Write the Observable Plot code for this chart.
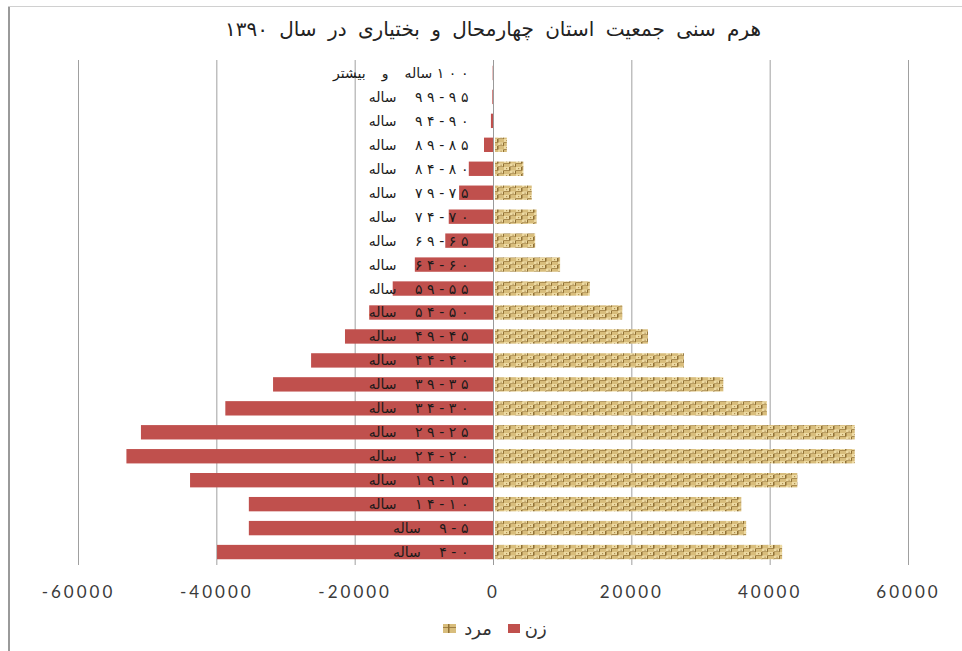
<!DOCTYPE html>
<html>
<head>
<meta charset="utf-8">
<script src="https://cdn.jsdelivr.net/npm/d3@7"></script>
<script src="https://cdn.jsdelivr.net/npm/@observablehq/plot@0.6"></script>
<style>
  html, body { margin: 0; padding: 0; background: #fff; }
  #wrap { position: relative; width: 962px; height: 651px; overflow: hidden; background: #fff; }
  #lborder { position: absolute; left: 8px; top: 6px; width: 2px; height: 645px; background: #9a9a9a; }
  #tborder { position: absolute; left: 8px; top: 6px; width: 954px; height: 1px; background: #d0d0d0; }
  #title { position: absolute; left: 0; width: 986px; top: 17px; text-align: center; direction: rtl;
           font-family: "DejaVu Sans", sans-serif; font-size: 20px; word-spacing: 5px; color: #222; }
  #chart { position: absolute; left: 0; top: 55px; }
  #legend { position: absolute; left: 0; width: 990px; top: 618px; display: flex; justify-content: center; align-items: center;
            font-family: "DejaVu Sans", sans-serif; font-size: 18px; color: #333; gap: 8px; }
  .sw { display: inline-block; width: 12px; height: 9px; }
</style>
</head>
<body>
<div id="wrap">
  <div id="lborder"></div>
  <div id="tborder"></div>
  <div id="title"></div>
  <div id="chart"></div>
  <div id="legend"></div>
</div>
<script>
// Age groups, youngest to oldest: [number part, word part]
const ageNums = [
  "۰‐۴", "۵‐۹", "۱۰‐۱۴", "۱۵‐۱۹", "۲۰‐۲۴", "۲۵‐۲۹", "۳۰‐۳۴", "۳۵‐۳۹", "۴۰‐۴۴", "۴۵‐۴۹",
  "۵۰‐۵۴", "۵۵‐۵۹", "۶۰‐۶۴", "۶۵‐۶۹", "۷۰‐۷۴", "۷۵‐۷۹", "۸۰‐۸۴", "۸۵‐۸۹", "۹۰‐۹۴", "۹۵‐۹۹",
  "۱۰۰"
];
const ageWords = [
  "ساله", "ساله", "ساله", "ساله", "ساله", "ساله", "ساله", "ساله", "ساله", "ساله",
  "ساله", "ساله", "ساله", "ساله", "ساله", "ساله", "ساله", "ساله", "ساله", "ساله",
  "ساله و بیشتر"
];
// Women (زن)
const women = [39900, 35300, 35300, 43800, 53000, 50900, 38700, 31800, 26300, 21400,
               17900, 14500, 11300, 6900, 6400, 4900, 3500, 1300, 300, 100, 50];
// Men (مرد)
const men = [41800, 36600, 35900, 44000, 52300, 52300, 39600, 33300, 27600, 22400,
             18700, 14000, 9700, 6100, 6300, 5600, 4400, 2000, 200, 50, 50];
const xTicks = [-60000, -40000, -20000, 0, 20000, 40000, 60000];
const titleText = "هرم سنی جمعیت استان چهارمحال و بختیاری در سال ۱۳۹۰";
const seriesNames = ["زن", "مرد"];
const colors = {women: "#c0504d"};

document.getElementById("title").textContent = titleText;

// display form: spaced digits, each number kept left-to-right, whole label right-to-left
const SP = "\u2004", EN = "\u2002", LRE = "\u202A", RLE = "\u202B", PDF = "\u202C", RLM = "\u200F";
function displayLabel(num, word, last) {
  const parts = num.split("‐").map(p => LRE + Array.from(p).join(SP) + PDF);
  const n = parts.join(RLM + SP + "‐" + SP + RLM);
  return RLE + n + RLM + (last ? "\u00A0" : "\u00A0" + EN + EN) + word.replace(/ /g, "\u00A0" + EN + SP) + PDF;
}

const rows = ageNums.map((n, i) => ({
  age: n + " " + ageWords[i],
  label: displayLabel(n, ageWords[i], i === 20),
  women: women[i], men: men[i]
}));
const yDomain = rows.map(d => d.age).reverse();

const chart = Plot.plot({
  width: 962,
  height: 555,
  marginLeft: 78,
  marginRight: 54,
  marginTop: 5,
  marginBottom: 45,
  style: {background: "transparent", overflow: "visible"},
  x: {domain: [-60000, 60000], axis: null},
  y: {domain: yDomain, paddingInner: 0.4, paddingOuter: 0.24, round: false, axis: null},
  marks: [
    Plot.ruleX(xTicks, {stroke: "#a0a0a0", strokeWidth: 1}),
    Plot.barX(rows, {x1: 0, x2: d => -d.women, y: "age", fill: colors.women}),
    Plot.barX(rows, {x1: 0, x2: d => d.men, y: "age", fill: "url(#woven)", insetLeft: 2}),
    Plot.ruleX([0], {stroke: "#9a9a9a", strokeWidth: 1}),
    Plot.text(rows, {x: 0, y: "age", text: "label", textAnchor: "end", dx: -25,
      fontFamily: "DejaVu Sans", fontSize: 14, fill: "#1a1a1a"}),
    Plot.axisX(xTicks, {tickSize: 0, tickPadding: 20, fontSize: 17, fontFamily: "Lato",
      tickFormat: d => String(d), fill: "#3a3a3a", label: null})
  ]
});

const svg = d3.select(chart);
svg.selectAll("g[aria-label='x-axis tick label'] text").style("letter-spacing", "3px");

// woven texture pattern for men bars
const defs = svg.insert("defs", ":first-child");
const pat = defs.append("pattern").attr("id", "woven").attr("patternUnits", "userSpaceOnUse")
  .attr("width", 12).attr("height", 7);
pat.append("rect").attr("width", 12).attr("height", 7).attr("fill", "#d8bd7c");
pat.append("rect").attr("x", 0).attr("y", 0).attr("width", 6).attr("height", 3).attr("fill", "#eddaa3");
pat.append("rect").attr("x", 6).attr("y", 3.5).attr("width", 6).attr("height", 3).attr("fill", "#eddaa3");
pat.append("rect").attr("x", 5).attr("y", 0).attr("width", 1.5).attr("height", 3.5).attr("fill", "#8f7035");
pat.append("rect").attr("x", 11).attr("y", 3.5).attr("width", 1.5).attr("height", 3.5).attr("fill", "#8f7035");
pat.append("rect").attr("x", 0).attr("y", 3).attr("width", 6).attr("height", 0.8).attr("fill", "#a08044");
pat.append("rect").attr("x", 6).attr("y", 6.4).attr("width", 6).attr("height", 0.8).attr("fill", "#a08044");
pat.append("rect").attr("x", 2).attr("y", 1).attr("width", 1.2).attr("height", 1.2).attr("fill", "#b08e50");
pat.append("rect").attr("x", 8.5).attr("y", 4.6).attr("width", 1.2).attr("height", 1.2).attr("fill", "#b08e50");

document.getElementById("chart").appendChild(chart);

// legend: [tan] مرد   [red] زن
const legend = d3.select("#legend");
const item1 = legend.append("div").style("display", "flex").style("align-items", "center").style("gap", "8px");
const swSvg = item1.append("svg").attr("width", 13).attr("height", 9);
swSvg.append("rect").attr("width", 13).attr("height", 9).attr("fill", "#d8bd7c");
swSvg.append("rect").attr("x", 0).attr("y", 3).attr("width", 13).attr("height", 1).attr("fill", "#a08044");
swSvg.append("rect").attr("x", 5).attr("y", 0).attr("width", 1.5).attr("height", 9).attr("fill", "#8f7035");
item1.append("span").text(seriesNames[1]);
const item2 = legend.append("div").style("display", "flex").style("align-items", "center").style("gap", "5px").style("margin-left", "8px");
item2.append("span").attr("class", "sw").style("background", colors.women);
item2.append("span").text(seriesNames[0]);
</script>
</body>
</html>
